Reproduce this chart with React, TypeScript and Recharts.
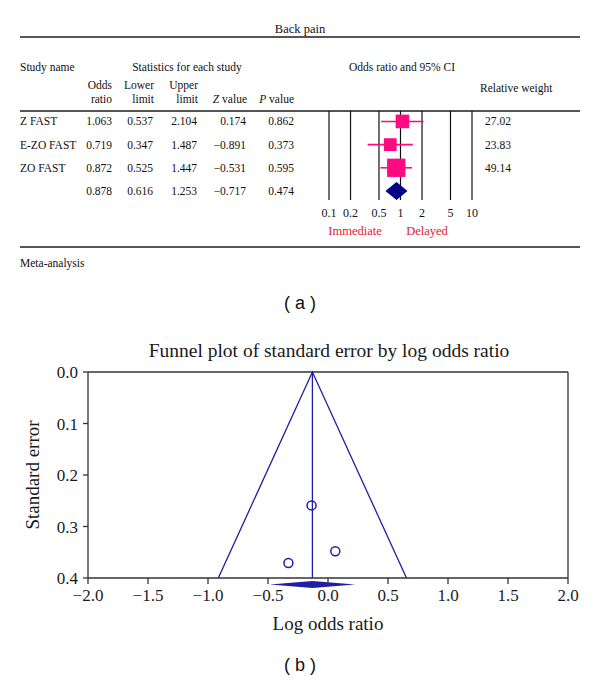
import React from 'react'
import {
  ScatterChart,
  Scatter,
  XAxis,
  YAxis,
  ZAxis,
  CartesianGrid,
  ReferenceArea,
  ReferenceLine,
} from 'recharts'

const SERIF = '"Liberation Serif", "Times New Roman", serif'
const SANS = '"Liberation Sans", Arial, sans-serif'
const PINK = '#ff0a80'
const NAVY = '#00008b'
const BLUE = '#1f1fa3'
const RED = '#e3192f'
const RULE = '#555'

// (a) forest plot table
const studyNames = ['Z FAST', 'E-ZO FAST', 'ZO FAST', '']
const oddsRatio = [1.063, 0.719, 0.872, 0.878]
const lowerLimit = [0.537, 0.347, 0.525, 0.616]
const upperLimit = [2.104, 1.487, 1.447, 1.253]
const zValue = [0.174, -0.891, -0.531, -0.717]
const pValue = [0.862, 0.373, 0.595, 0.474]
const relWeight = [27.02, 23.83, 49.14]
const orTicks = [0.1, 0.2, 0.5, 1, 2, 5, 10]

// (b) funnel plot
const logOR = [0.061, -0.33, -0.137]
const stdErr = [0.348, 0.371, 0.259]
const pooledLogOR = -0.13
const pooledLow = -0.485
const pooledHigh = 0.226
const funnelX = [-0.914, -0.13, 0.654]
const funnelY = [0.4, 0, 0.4]
const xTicks = [-2, -1.5, -1, -0.5, 0, 0.5, 1, 1.5, 2]
const seTicks = [0, 0.1, 0.2, 0.3, 0.4]

const studies = relWeight.map((w, i) => ({ x: oddsRatio[i], y: i, w }))
const ciRows = relWeight.map((_, i) => [
  { x: lowerLimit[i], y: i },
  { x: upperLimit[i], y: i },
])
const points = logOR.map((x, i) => ({ x, y: stdErr[i] }))
const funnel = funnelX.map((x, i) => ({ x, y: funnelY[i] }))

const minus = (v: number, d: number) => (v < 0 ? '\u2212' + Math.abs(v).toFixed(d) : v.toFixed(d))

const diamond = (fill: string) => (p: any) => {
  const { x, y, width, height } = p
  const pts = `${x},${y + height / 2} ${x + width / 2},${y} ${x + width},${y + height / 2} ${x + width / 2},${y + height}`
  return <polygon points={pts} fill={fill} />
}

function T({ x, y, a = 'start', size = 11.5, color = '#111', font = SERIF, children }: any) {
  const tx = a === 'middle' ? '-50%' : a === 'end' ? '-100%' : '0'
  return (
    <div
      style={{
        position: 'absolute',
        left: x,
        top: y,
        transform: `translate(${tx}, -50%)`,
        fontFamily: font,
        fontSize: size,
        color,
        lineHeight: 1,
        whiteSpace: 'nowrap',
      }}
    >
      {children}
    </div>
  )
}

const Rule = ({ y, h = 1.5 }: { y: number; h?: number }) => (
  <div style={{ position: 'absolute', left: 20, width: 560, top: y, height: h, background: RULE }} />
)

function RowTick({ x, y, payload }: any) {
  const i = payload.value
  const nums = [
    [oddsRatio[i].toFixed(3), -217],
    [lowerLimit[i].toFixed(3), -176],
    [upperLimit[i].toFixed(3), -132],
    [minus(zValue[i], 3), -83],
    [pValue[i].toFixed(3), -35],
  ] as [string, number][]
  return (
    <g fontFamily={SERIF} fontSize={11.5} fill="#111">
      <text x={x - 309} y={y} dy="0.35em">
        {studyNames[i]}
      </text>
      {nums.map(([s, dx]) => (
        <text key={dx} x={x + dx} y={y} dy="0.35em" textAnchor="end">
          {s}
        </text>
      ))}
      {relWeight[i] != null && (
        <text x={x + 156} y={y} dy="0.35em">
          {relWeight[i].toFixed(2)}
        </text>
      )}
    </g>
  )
}

export default function App() {
  const hdr = 11.5
  return (
    <div style={{ position: 'absolute', left: 0, top: 0, width: 600, height: 686, background: '#fff' }}>
      {/* panel (a) */}
      <T x={300} y={29} a="middle" size={12.5}>Back pain</T>
      <Rule y={36} />
      <T x={20} y={68} size={hdr}>Study name</T>
      <T x={187} y={68} a="middle" size={hdr}>Statistics for each study</T>
      <T x={402} y={68} a="middle" size={hdr}>Odds ratio and 95% CI</T>
      <T x={112} y={86} a="end" size={hdr}>Odds</T>
      <T x={112} y={100} a="end" size={hdr}>ratio</T>
      <T x={154} y={86} a="end" size={hdr}>Lower</T>
      <T x={154} y={100} a="end" size={hdr}>limit</T>
      <T x={198} y={86} a="end" size={hdr}>Upper</T>
      <T x={198} y={100} a="end" size={hdr}>limit</T>
      <T x={247} y={100} a="end" size={hdr}><i>Z</i> value</T>
      <T x={294} y={100} a="end" size={hdr}><i>P</i> value</T>
      <T x={480} y={89} size={hdr}>Relative weight</T>
      <Rule y={110} />

      <div style={{ position: 'absolute', left: 0, top: 100 }}>
        <ScatterChart width={600} height={145} margin={{ top: 11, right: 128, bottom: 0, left: 0 }}>
          <CartesianGrid horizontal={false} stroke="#111" strokeWidth={1.2} />
          <XAxis
            dataKey="x"
            type="number"
            scale="log"
            domain={[0.1, 10]}
            ticks={orTicks}
            interval={0}
            axisLine={false}
            tickLine={false}
            tickSize={0}
            tickMargin={8}
            height={45}
            tickFormatter={(v) => String(v)}
            tick={{ fontSize: 12, fill: '#111', fontFamily: SERIF }}
          />
          <YAxis
            dataKey="y"
            type="number"
            domain={[-0.45, 3.39]}
            reversed
            ticks={[0, 1, 2, 3]}
            interval={0}
            axisLine={false}
            tickLine={false}
            tickSize={0}
            tickMargin={0}
            width={329}
            tick={(p: any) => <RowTick {...p} />}
          />
          <ZAxis dataKey="w" type="number" domain={[0, 49.14]} range={[0, 263]} />
          {ciRows.map((row, i) => (
            <Scatter
              key={i}
              data={row}
              line={{ stroke: PINK, strokeWidth: 1.6 }}
              shape={() => <g />}
              isAnimationActive={false}
            />
          ))}
          <Scatter
            data={studies}
            isAnimationActive={false}
            shape={(p: any) => (
              <rect x={p.cx - p.width / 2} y={p.cy - p.height / 2} width={p.width} height={p.height} fill={PINK} />
            )}
          />
          <ReferenceArea
            x1={lowerLimit[3]}
            x2={upperLimit[3]}
            y1={2.61}
            y2={3.39}
            ifOverflow="visible"
            shape={diamond(NAVY)}
          />
        </ScatterChart>
      </div>

      <T x={355} y={231} a="middle" size={12.5} color={RED}>Immediate</T>
      <T x={427} y={231} a="middle" size={12.5} color={RED}>Delayed</T>
      <Rule y={246} h={2} />
      <T x={20} y={264} size={hdr}>Meta-analysis</T>
      <T x={300} y={303} a="middle" size={18} font={SANS}>( a )</T>

      {/* panel (b) */}
      <T x={329} y={351} a="middle" size={19.5} color="#1a1a1a">
        Funnel plot of standard error by log odds ratio
      </T>
      <div style={{ position: 'absolute', left: 0, top: 330 }}>
        <ScatterChart width={600} height={310} margin={{ top: 42, right: 32, bottom: 0, left: 0 }}>
          <XAxis
            dataKey="x"
            type="number"
            domain={[-2, 2]}
            ticks={xTicks}
            interval={0}
            height={62}
            stroke="#333"
            strokeWidth={1.3}
            tickSize={6}
            tickMargin={5}
            tickFormatter={(v) => minus(v, 1)}
            tick={{ fontSize: 17, fill: '#1a1a1a', fontFamily: SERIF }}
            label={{
              content: ({ viewBox }: any) => (
                <text
                  x={viewBox.x + viewBox.width / 2}
                  y={viewBox.y + 45}
                  textAnchor="middle"
                  dominantBaseline="central"
                  fontFamily={SERIF}
                  fontSize={19}
                  fill="#1a1a1a"
                >
                  Log odds ratio
                </text>
              ),
            }}
          />
          <YAxis
            dataKey="y"
            type="number"
            domain={[0, 0.4]}
            reversed
            ticks={seTicks}
            interval={0}
            width={88}
            stroke="#333"
            strokeWidth={1.3}
            tickSize={5}
            tickMargin={5}
            tickFormatter={(v) => v.toFixed(1)}
            tick={{ fontSize: 17, fill: '#1a1a1a', fontFamily: SERIF }}
            label={{
              content: ({ viewBox }: any) => {
                const cx = viewBox.x + 32
                const cy = viewBox.y + viewBox.height / 2
                return (
                  <text
                    x={cx}
                    y={cy}
                    transform={`rotate(-90, ${cx}, ${cy})`}
                    textAnchor="middle"
                    dominantBaseline="central"
                    fontFamily={SERIF}
                    fontSize={19}
                    fill="#1a1a1a"
                  >
                    Standard error
                  </text>
                )
              },
            }}
          />
          <ReferenceLine y={0} stroke="#333" strokeWidth={1.3} />
          <ReferenceLine x={2} stroke="#333" strokeWidth={1.3} />
          <ReferenceLine x={pooledLogOR} stroke={BLUE} strokeWidth={1.3} />
          <Scatter
            data={funnel}
            line={{ stroke: BLUE, strokeWidth: 1.3 }}
            shape={() => <g />}
            isAnimationActive={false}
          />
          <Scatter
            data={points}
            isAnimationActive={false}
            shape={(p: any) => <circle cx={p.cx} cy={p.cy} r={4.5} fill="none" stroke={BLUE} strokeWidth={1.5} />}
          />
          <ReferenceArea
            x1={pooledLow}
            x2={pooledHigh}
            y1={0.406}
            y2={0.4195}
            ifOverflow="visible"
            shape={diamond(BLUE)}
          />
        </ScatterChart>
      </div>
      <T x={300} y={665} a="middle" size={18} font={SANS}>( b )</T>
    </div>
  )
}
